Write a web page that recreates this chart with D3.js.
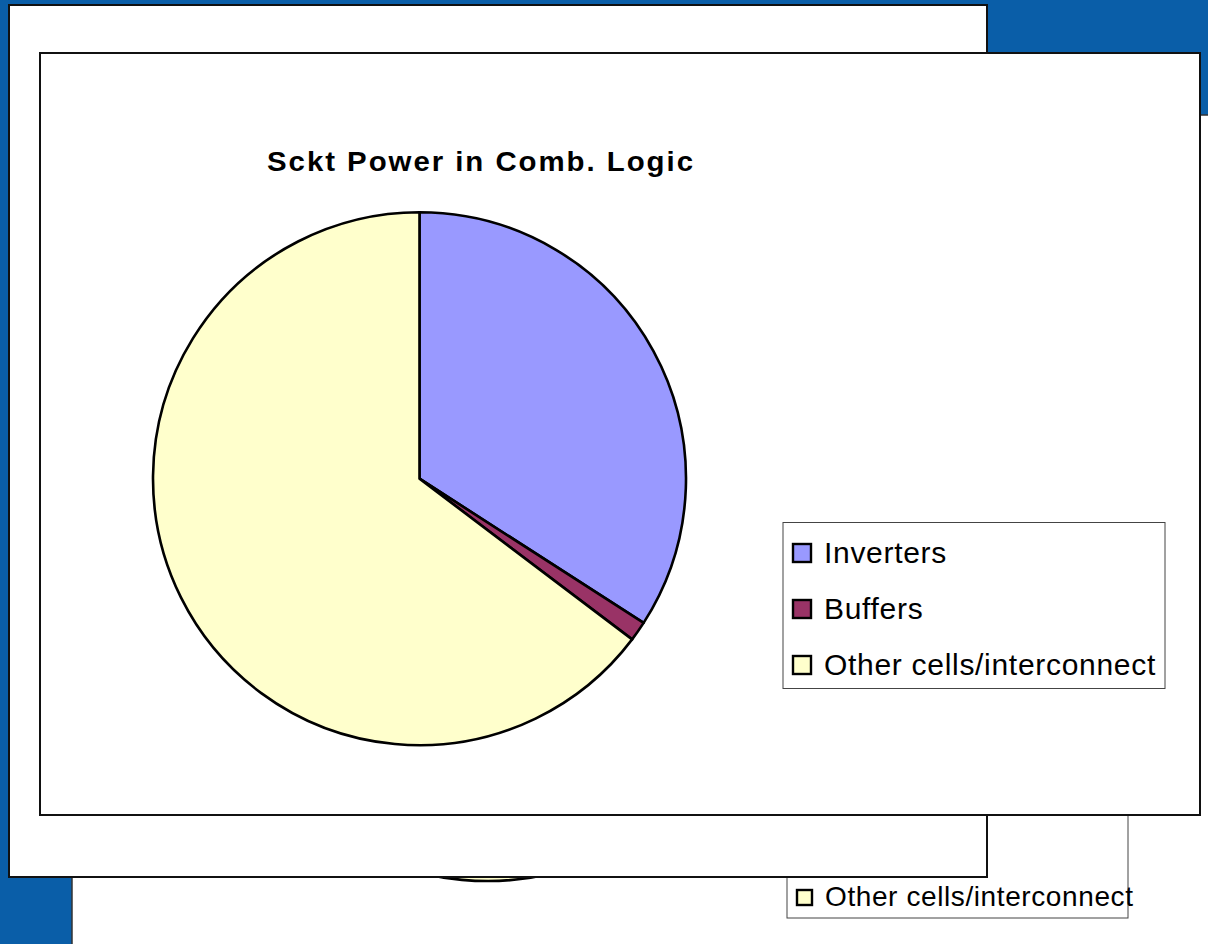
<!DOCTYPE html>
<html>
<head>
<meta charset="utf-8">
<script src="https://cdn.jsdelivr.net/npm/d3@7"></script>
<style>
  html, body { margin: 0; padding: 0; background: #0a5ea8; }
  svg { display: block; }
  text { font-family: "Liberation Sans", Arial, sans-serif; fill: #000; }
</style>
</head>
<body>
<svg id="chart" width="1208" height="944"></svg>
<script>
// Share of switching power in combinational logic
const categories = ["Inverters", "Buffers", "Other cells/interconnect"];
const shares = [34.1, 1.2, 64.7];
const sliceColors = ["#9999ff", "#993366", "#ffffcc"];
const chartTitle = "Sckt Power in Comb. Logic";

const svg = d3.select("#chart");
const W = 1208, H = 944;

svg.append("rect").attr("width", W).attr("height", H).attr("fill", "#0a5ea8");

const color = d3.scaleOrdinal().domain(categories).range(sliceColors);
const pie = d3.pie().sort(null).value(d => d.value);
const slices = pie(categories.map((c, i) => ({ name: c, value: shares[i] })));

// A framed chart card: white panel with a pie and a legend
function drawCard(g, opt) {
  g.append("rect")
    .attr("x", opt.x).attr("y", opt.y)
    .attr("width", opt.w).attr("height", opt.h)
    .attr("fill", "#fff")
    .attr("stroke", opt.border || "#111")
    .attr("stroke-width", opt.borderWidth || 1.5);

  if (opt.pie) {
    const arc = d3.arc().innerRadius(0).outerRadius(opt.pie.r);
    g.append("g")
      .attr("transform", `translate(${opt.pie.cx},${opt.pie.cy})`)
      .selectAll("path")
      .data(slices)
      .join("path")
      .attr("d", arc)
      .attr("fill", d => color(d.data.name))
      .attr("stroke", "#000")
      .attr("stroke-width", 2.6)
      .attr("stroke-linejoin", "round");
  }

  if (opt.legend) {
    const L = opt.legend;
    const lg = g.append("g");
    lg.append("rect")
      .attr("x", L.x).attr("y", L.y)
      .attr("width", L.w).attr("height", L.h)
      .attr("fill", "#fff")
      .attr("stroke", "#444").attr("stroke-width", 1);
    const rows = lg.selectAll("g.row")
      .data(L.items)
      .join("g")
      .attr("class", "row")
      .attr("transform", (d, i) => `translate(${L.x + 10},${L.firstBaseline + i * L.step})`);
    rows.append("rect")
      .attr("x", 0).attr("y", -L.sq - 1)
      .attr("width", L.sq).attr("height", L.sq)
      .attr("fill", d => color(d))
      .attr("stroke", "#000").attr("stroke-width", 2.4);
    rows.append("text")
      .attr("x", L.sq + 13).attr("y", 0)
      .attr("font-size", L.font)
      .attr("letter-spacing", L.spacing)
      .text(d => d);
  }
}

// Card furthest back (mostly hidden)
const back = svg.append("g");
drawCard(back, {
  x: 72, y: 115, w: 1200, h: 900, border: "#333", borderWidth: 1.5,
  pie: { cx: 487, cy: 881 - 272, r: 272 },
  legend: {
    x: 787, y: 700, w: 341, h: 218, items: categories,
    firstBaseline: 906 - 2 * 52, step: 52, sq: 15, font: 28, spacing: 0.6
  }
});

// Middle card
drawCard(svg.append("g"), { x: 9, y: 5, w: 978, h: 872, border: "#111", borderWidth: 2 });

// Front card with the chart
const front = svg.append("g");
drawCard(front, {
  x: 40, y: 53, w: 1160, h: 762, border: "#111", borderWidth: 2,
  pie: { cx: 419.5, cy: 478.7, r: 266.5 },
  legend: {
    x: 783, y: 522.5, w: 382, h: 166, items: categories,
    firstBaseline: 563, step: 56, sq: 18, font: 30, spacing: 0.7
  }
});

// Wide bold title
const titleScale = 1.07;
front.append("text")
  .attr("transform", `translate(267,171) scale(${titleScale},1)`)
  .attr("x", 0).attr("y", 0)
  .attr("font-size", 27.5)
  .attr("font-weight", "bold")
  .attr("textLength", 426 / titleScale)
  .attr("lengthAdjust", "spacing")
  .text(chartTitle);
</script>
</body>
</html>
